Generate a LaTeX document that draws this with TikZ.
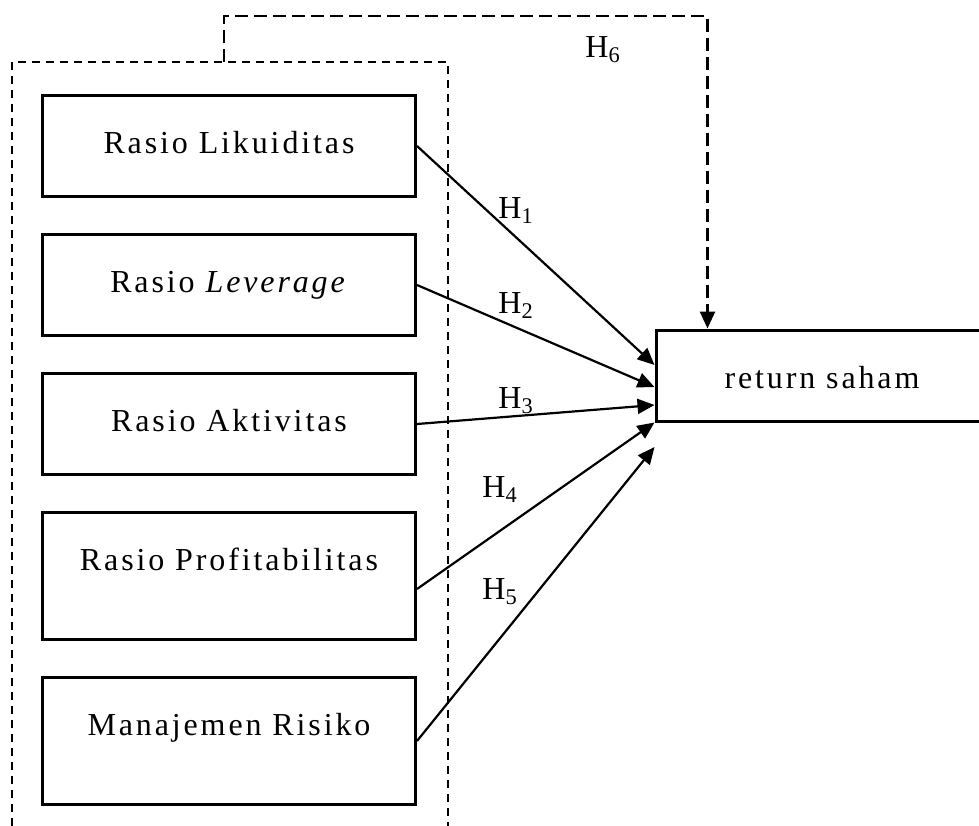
\documentclass[tikz,border=0pt]{standalone}
\usepackage{fontspec}
\setmainfont{Liberation Serif}
\newfontfamily\spacedfont{Liberation Serif}[LetterSpace=9]
\usetikzlibrary{positioning}
\usetikzlibrary{arrows.meta}

\begin{document}
\begin{tikzpicture}[x=0.5pt,y=-0.5pt,node distance=17.5pt,
  var/.style={rectangle,draw,line width=1.5pt,minimum width=186.5pt,inner sep=0pt,
    text height=29pt,text depth=21.5pt,font=\spacedfont\fontsize{16}{19}\selectfont},
  tallvar/.style={var,text depth=34.5pt},
  hyp/.style={line width=1.1pt,-{Triangle[length=8.5pt,width=7.5pt]}},
  grp/.style={line width=0.85pt,dash pattern=on 4pt off 3pt},
  joint/.style={line width=1.3pt,dash pattern=on 6.5pt off 3pt,-{Triangle[length=8.5pt,width=7.5pt]}},
  lbl/.style={anchor=base west,inner sep=0pt,font=\fontsize{16}{19}\selectfont}]
\useasboundingbox (0,0) rectangle (979,825);
\clip (0,0) rectangle (979,825);

\node[var,anchor=north west] at (41,94) (r1) {Rasio Likuiditas};
\node[var,below=of r1]     (r2) {Rasio \textit{Leverage}};
\node[var,below=of r2]     (r3) {Rasio Aktivitas};
\node[tallvar,below=of r3] (r4) {Rasio Profitabilitas};
\node[tallvar,below=of r4] (r5) {Manajemen Risiko};

\node[var,minimum width=166pt,text depth=16.5pt] at (822,375.5) (rs) {return saham};

%group:
\coordinate (gnw) at (12,62);
\coordinate (gne) at (448,62);
\coordinate (gtop) at (224,62);
\draw[grp] (12,840) -- (gnw) -- (gne) -- (448,840);

\draw[hyp] (r1.east) -- ([yshift=5.25pt]rs.west);
\draw[hyp] (r2.east) -- ([yshift=-5.75pt]rs.west);
\draw[hyp] (r3.east) -- ([yshift=-14.75pt]rs.west);
\draw[hyp] ([yshift=-6.5pt]r4.east) -- (rs.south west);
\draw[hyp] (r5.east) -- ([yshift=-35.75pt]rs.west);

\draw[joint] (gtop) -- ++(0,-46) -| ([xshift=26.5pt]rs.north west);

\node[lbl] at (498,218) (h1) {H\textsubscript{1}};
\node[lbl] at (498,313) (h2) {H\textsubscript{2}};
\node[lbl] at (498,408) (h3) {H\textsubscript{3}};
\node[lbl] at (482,497) (h4) {H\textsubscript{4}};
\node[lbl] at (482,599) (h5) {H\textsubscript{5}};
\node[lbl] at (585,57)  (h6) {H\textsubscript{6}};

\end{tikzpicture}
\end{document}
